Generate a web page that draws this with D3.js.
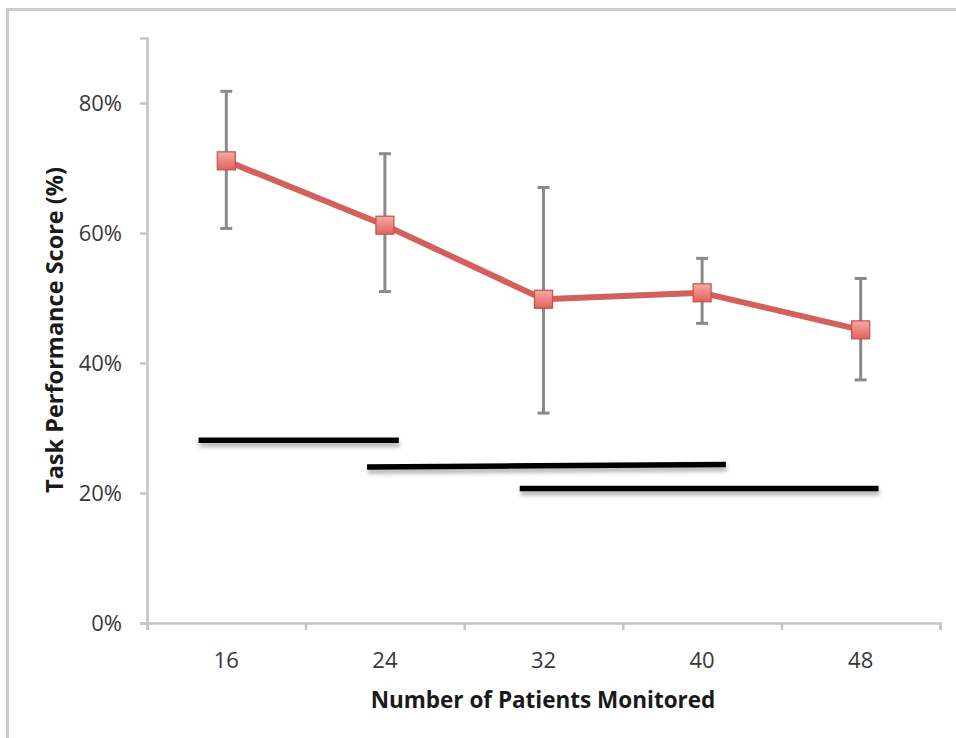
<!DOCTYPE html>
<html>
<head>
<meta charset="utf-8">
<script src="https://cdn.jsdelivr.net/npm/d3@7"></script>
<style>
  body { margin: 0; background: #fff; }
  svg text { font-family: "Open Sans", "Liberation Sans", sans-serif; }
</style>
</head>
<body>
<div id="chart"></div>
<script>
//---------------------------------- Data --------------------
var patients = [16, 24, 32, 40, 48];
var score    = [71.1, 61.2, 49.8, 50.8, 45.1];
var errHigh  = [81.8, 72.2, 67.0, 56.1, 53.0];
var errLow   = [60.7, 51.0, 32.3, 46.1, 37.4];
var yTicks   = [0, 20, 40, 60, 80];

// hand drawn range bars: [from patients, to patients, y at start, y at end]
var rangeFrom = [14.6, 23.1, 30.8];
var rangeTo   = [24.7, 41.2, 48.9];
var rangeY1   = [28.1, 24.0, 20.7];
var rangeY2   = [28.1, 24.4, 20.7];

//---------------------------------- Setup --------------------
var width = 956, height = 738;
var svg = d3.select("#chart").append("svg")
    .attr("width", width)
    .attr("height", height);

var defs = svg.append("defs");
var grad = defs.append("linearGradient")
    .attr("id", "markerFill")
    .attr("x1", 0).attr("y1", 0).attr("x2", 0).attr("y2", 1);
grad.append("stop").attr("offset", "0%").attr("stop-color", "#f6aaa4");
grad.append("stop").attr("offset", "100%").attr("stop-color", "#e2615b");

// userSpaceOnUse so the flat lines don't get a zero-height filter box
var shadow = defs.append("filter").attr("id", "lineShadow")
    .attr("filterUnits", "userSpaceOnUse")
    .attr("x", 0).attr("y", 0).attr("width", width).attr("height", height);
shadow.append("feDropShadow")
    .attr("dx", 1).attr("dy", 4).attr("stdDeviation", 2)
    .attr("flood-color", "#000").attr("flood-opacity", 0.3);

// ---------- border (only top and left visible) ----------
svg.append("path")
    .attr("d", "M7.5," + height + "V9.5H" + width)
    .attr("fill", "none")
    .attr("stroke", "#cbcbcb")
    .attr("stroke-width", 3);

var x_scale = d3.scaleLinear().domain([12, 52]).range([147, 940]);
var y_scale = d3.scaleLinear().domain([0, 90]).range([623, 38]);

var axisColor = "#c4c4c4";
var labelColor = "#383838";

// ---------- y axis ----------
var yAxis = svg.append("g")
    .attr("transform", "translate(" + x_scale(12) + ",0)")
    .call(d3.axisLeft(y_scale).tickValues(yTicks).tickSize(7).tickPadding(18)
      .tickFormat(function(d) { return d + "%"; }));
yAxis.select(".domain").attr("stroke", axisColor).attr("stroke-width", 2.5);
yAxis.selectAll(".tick line").attr("stroke", axisColor).attr("stroke-width", 2.5);
yAxis.selectAll(".tick text")
    .attr("fill", labelColor)
    .style("font-size", "22px")
    .style("font-family", "'Open Sans', sans-serif");

// ---------- x axis ----------
var xAxis = svg.append("g")
    .attr("transform", "translate(0," + y_scale(0) + ")")
    .call(d3.axisBottom(x_scale).tickValues([12, 20, 28, 36, 44, 52]).tickSize(7).tickFormat(""));
xAxis.select(".domain").attr("stroke", axisColor).attr("stroke-width", 2.5);
xAxis.selectAll(".tick line").attr("stroke", axisColor).attr("stroke-width", 2.5);

svg.append("g").selectAll(".xlabel")
    .data(patients)
    .enter().append("text")
    .attr("class", "xlabel")
    .attr("x", function(d) { return x_scale(d); })
    .attr("y", 668)
    .attr("text-anchor", "middle")
    .attr("fill", labelColor)
    .style("font-size", "22px")
    .text(function(d) { return d; });

// ---------- axis titles ----------
svg.append("text")
    .attr("x", 543)
    .attr("y", 708)
    .attr("text-anchor", "middle")
    .attr("fill", "#1a1a1a")
    .style("font-size", "22.5px")
    .style("font-weight", "bold")
    .text("Number of Patients Monitored");

svg.append("text")
    .attr("transform", "translate(63,330) rotate(-90)")
    .attr("text-anchor", "middle")
    .attr("fill", "#1a1a1a")
    .style("font-size", "23.5px")
    .style("font-weight", "bold")
    .text("Task Performance Score (%)");

// ---------- range bars ----------
svg.append("g").selectAll(".range_bar")
    .data(rangeFrom)
    .enter().append("line")
    .attr("class", "range_bar")
    .attr("x1", function(d) { return x_scale(d); })
    .attr("x2", function(d, i) { return x_scale(rangeTo[i]); })
    .attr("y1", function(d, i) { return y_scale(rangeY1[i]); })
    .attr("y2", function(d, i) { return y_scale(rangeY2[i]); })
    .attr("stroke", "#000")
    .attr("stroke-width", 5.5)
    .attr("filter", "url(#lineShadow)");

// ---------- error bars ----------
var errG = svg.append("g");
patients.forEach(function(p, i) {
  var cx = x_scale(p);
  errG.append("line")
      .attr("x1", cx).attr("x2", cx)
      .attr("y1", y_scale(errHigh[i])).attr("y2", y_scale(errLow[i]))
      .attr("stroke", "#8a8a8a").attr("stroke-width", 3);
  [errHigh[i], errLow[i]].forEach(function(v) {
    errG.append("line")
        .attr("x1", cx - 6).attr("x2", cx + 6)
        .attr("y1", y_scale(v)).attr("y2", y_scale(v))
        .attr("stroke", "#8a8a8a").attr("stroke-width", 3);
  });
});

// ---------- series line ----------
var line = d3.line()
    .x(function(d, i) { return x_scale(patients[i]); })
    .y(function(d) { return y_scale(d); });

svg.append("path")
    .datum(score)
    .attr("d", line)
    .attr("fill", "none")
    .attr("stroke", "#d3605a")
    .attr("stroke-width", 6)
    .attr("stroke-linejoin", "round");

// ---------- markers ----------
var ms = 18;
svg.append("g").selectAll(".datapoints")
    .data(score)
    .enter().append("rect")
    .attr("class", "datapoints")
    .attr("x", function(d, i) { return x_scale(patients[i]) - ms / 2; })
    .attr("y", function(d) { return y_scale(d) - ms / 2; })
    .attr("width", ms)
    .attr("height", ms)
    .attr("fill", "url(#markerFill)")
    .attr("stroke", "#c4514b")
    .attr("stroke-width", 1.2);
</script>
</body>
</html>
